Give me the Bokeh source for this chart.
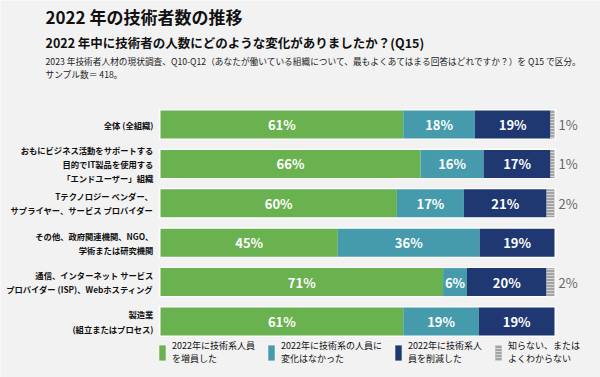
from bokeh.plotting import figure
from bokeh.models import ColumnDataSource, Range1d, Label, Legend, LegendItem
from bokeh.embed import file_html
from bokeh.resources import INLINE
from bokeh.core.properties import value

categories = [
    "全体 (全組織)",
    "おもにビジネス活動をサポートする\n目的でIT製品を使用する\n「エンドユーザー」組織",
    "Tテクノロジー ベンダー、\nサプライヤー、サービス プロバイダー",
    "その他、政府関連機関、NGO、\n学術または研究機関",
    "通信、インターネット サービス\nプロバイダー (ISP)、Webホスティング",
    "製造業\n(組立またはプロセス)",
]
increased = [61, 66, 60, 45, 71, 61]
unchanged = [18, 16, 17, 36, 6, 19]
decreased = [19, 17, 21, 19, 20, 19]
unknown = [1, 1, 2, 0, 2, 0]
series_names = [
    "2022年に技術系人員\nを増員した",
    "2022年に技術系の人員に\n変化はなかった",
    "2022年に技術系人\n員を削減した",
    "知らない、または\nよくわからない",
]
colors = ["#6ab150", "#459bab", "#1f3872", "#a3a3a3"]
title = "2022 年の技術者数の推移"
subtitle = "2022 年中に技術者の人数にどのような変化がありましたか？(Q15)"
note1 = "2023 年技術者人材の現状調査、Q10-Q12（あなたが働いている組織について、最もよくあてはまる回答はどれですか？）を Q15 で区分。"
note2 = "サンプル数＝ 418。"

FONT = "Noto Sans CJK JP"
W, H = 600, 377
bar_left_px, bar_right_px = 160, 554
ppp = (bar_right_px - bar_left_px) / 100.0
row0_px, step_px = 124.0, 39.4

p = figure(width=W, height=H, output_backend="svg", toolbar_location=None,
           x_range=Range1d(-bar_left_px / ppp, (W - bar_left_px) / ppp),
           y_range=Range1d((H - row0_px) / step_px, -row0_px / step_px),
           x_axis_type=None, y_axis_type=None, min_border=0)
p.background_fill_color = "#f2f2f2"
p.border_fill_color = "#f2f2f2"
p.outline_line_color = None
p.xgrid.visible = False
p.ygrid.visible = False

rows = list(range(len(categories)))
series = [increased, unchanged, decreased, unknown]
totals = [sum(v) for v in zip(*series)]

bar_h = 0.71
# white rim behind each bar
p.hbar(y=rows, left=-0.45, right=100.45, height=bar_h + 2.4 / step_px,
       fill_color="white", line_color=None)

cum = [0.0] * len(rows)
renderers = []
lbl_x, lbl_y, lbl_t = [], [], []
for k, vals in enumerate(series):
    left = list(cum)
    right = [c + v / t * 100 for c, v, t in zip(cum, vals, totals)]
    src = ColumnDataSource(dict(y=rows, left=left, right=right))
    kw = dict(fill_color=colors[k], line_color=None)
    if k == 3:
        kw.update(hatch_pattern="horizontal_line", hatch_color="#d6d6d6",
                  hatch_scale=3, hatch_weight=1)
    r = p.hbar(y="y", left="left", right="right", height=bar_h, source=src, **kw)
    renderers.append(r)
    if k < 3:
        for i in rows:
            lbl_x.append((left[i] + right[i]) / 2)
            lbl_y.append(i)
            lbl_t.append(f"{vals[i]}%")
    cum = right

p.text(x=lbl_x, y=lbl_y, text=lbl_t, text_align="center", text_baseline="middle",
       text_color="white", text_font=value(FONT), text_font_style="bold",
       text_font_size="13px")

# right-hand labels for the "unknown" share
rx = [101.0 for i in rows if unknown[i] > 0]
ry = [i for i in rows if unknown[i] > 0]
rt = [f"{unknown[i]}%" for i in rows if unknown[i] > 0]
p.text(x=rx, y=ry, text=rt, text_align="left", text_baseline="middle",
       text_color="#666666", text_font=value(FONT), text_font_size="13px")

# category labels
p.text(x=[-1.8] * len(rows), y=rows, text=categories, text_align="right",
       text_baseline="middle", text_color="#111111", text_font=value(FONT),
       text_font_style="bold", text_font_size="8.3px", text_line_height=1.2)

# titles
p.add_layout(Label(x=45, y=H - 28, x_units="screen", y_units="screen", text=title,
                   text_font=FONT, text_font_style="bold", text_font_size="17px",
                   text_color="#111111"))
p.add_layout(Label(x=45, y=H - 51, x_units="screen", y_units="screen", text=subtitle,
                   text_font=FONT, text_font_style="bold", text_font_size="12.5px",
                   text_color="#111111"))
p.add_layout(Label(x=45, y=H - 67, x_units="screen", y_units="screen", text=note1,
                   text_font=FONT, text_font_size="8.7px", text_color="#222222"))
p.add_layout(Label(x=45, y=H - 80, x_units="screen", y_units="screen", text=note2,
                   text_font=FONT, text_font_size="8.7px", text_color="#222222"))

legend = Legend(items=[LegendItem(label=n, renderers=[r]) for n, r in zip(series_names, renderers)],
                orientation="horizontal", location=(158, 12), glyph_width=8, glyph_height=19,
                label_standoff=6, spacing=12, padding=0, margin=0,
                background_fill_alpha=0, border_line_color=None,
                label_text_font=FONT, label_text_font_size="9px", label_text_color="#111111",
                label_text_line_height=1.2)
p.add_layout(legend)

open("out.html", "w").write(file_html(p, INLINE))
